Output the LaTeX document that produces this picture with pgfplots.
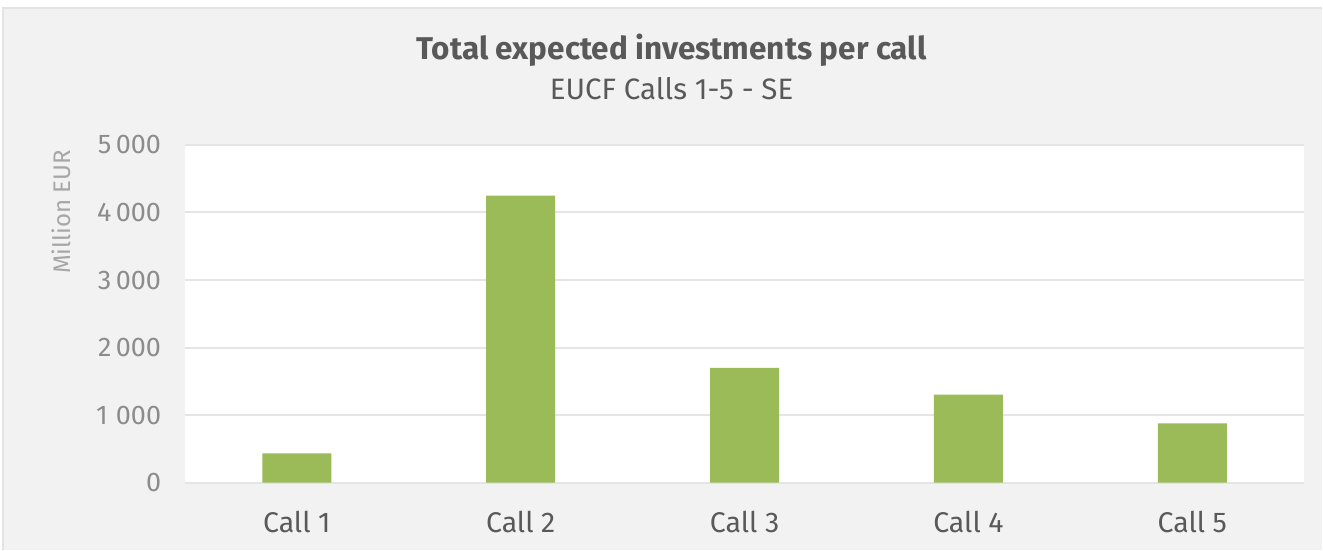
\documentclass[border=0pt]{standalone}
\usepackage{fontspec}
\setmainfont{Fira Sans}
\usepackage{pgfplots}
\pgfplotsset{compat=1.18}
\definecolor{bargreen}{HTML}{9BBB59}
\definecolor{chartbg}{HTML}{F2F2F2}
\definecolor{chartedge}{HTML}{E3E3E3}
\definecolor{gridgrey}{HTML}{E5E5E5}
\definecolor{titlegrey}{HTML}{595959}
\definecolor{tickgrey}{HTML}{8C8C8C}
\definecolor{ylabgrey}{HTML}{A6A6A6}
\begin{document}
\begin{tikzpicture}
% page and chart area (1 px = 0.4pt, plot origin at px (185,483))
\fill[white] (-74pt,-26.8pt) rectangle (455.2pt,193.2pt);
\fill[chartbg] (-72.8pt,-26.8pt) rectangle (455.2pt,190pt);
\draw[chartedge, line width=0.6pt] (-72.8pt,-26.8pt) -- (-72.8pt,190pt) -- (455.2pt,190pt);
\begin{axis}[
  at={(0pt,0pt)}, anchor=south west,
  scale only axis, width=448pt, height=135.2pt,
  ybar, bar width=27.6pt,
  xmin=-0.5, xmax=4.5,
  xtick={0,1,2,3,4},
  xticklabels={Call 1, Call 2, Call 3, Call 4, Call 5},
  ymin=0, ymax=5000,
  ytick={0,1000,2000,3000,4000,5000},
  yticklabels={0, 1\kern0.3em000, 2\,000, 3\,000, 4\,000, 5\,000},
  axis background/.style={fill=white},
  axis line style={draw=none},
  major tick length=0pt,
  ymajorgrids, grid style={draw=gridgrey, line width=0.8pt},
  yticklabel style={font=\fontsize{10.8}{12}\selectfont, text=tickgrey, xshift=-6pt},
  xticklabel style={font=\fontsize{11.4}{13}\selectfont, text=titlegrey, yshift=-8pt},
  clip=false
]
\addplot[fill=bargreen, draw=none] coordinates {
  (0,435) (1,4250) (2,1700) (3,1305) (4,880)
};
\end{axis}
\node[anchor=base, text=titlegrey, font=\fontsize{12.6}{14}\selectfont\bfseries] at (194.8pt,169.2pt) {Total expected investments per call};
\node[anchor=base, text=titlegrey, font=\fontsize{11.8}{14}\selectfont] at (194.8pt,153.2pt) {EUCF Calls 1-5 - SE};
\node[rotate=90, text=ylabgrey, font=\fontsize{9.6}{11}\selectfont] at (-49.6pt,108.4pt) {Million EUR};
\end{tikzpicture}
\end{document}
